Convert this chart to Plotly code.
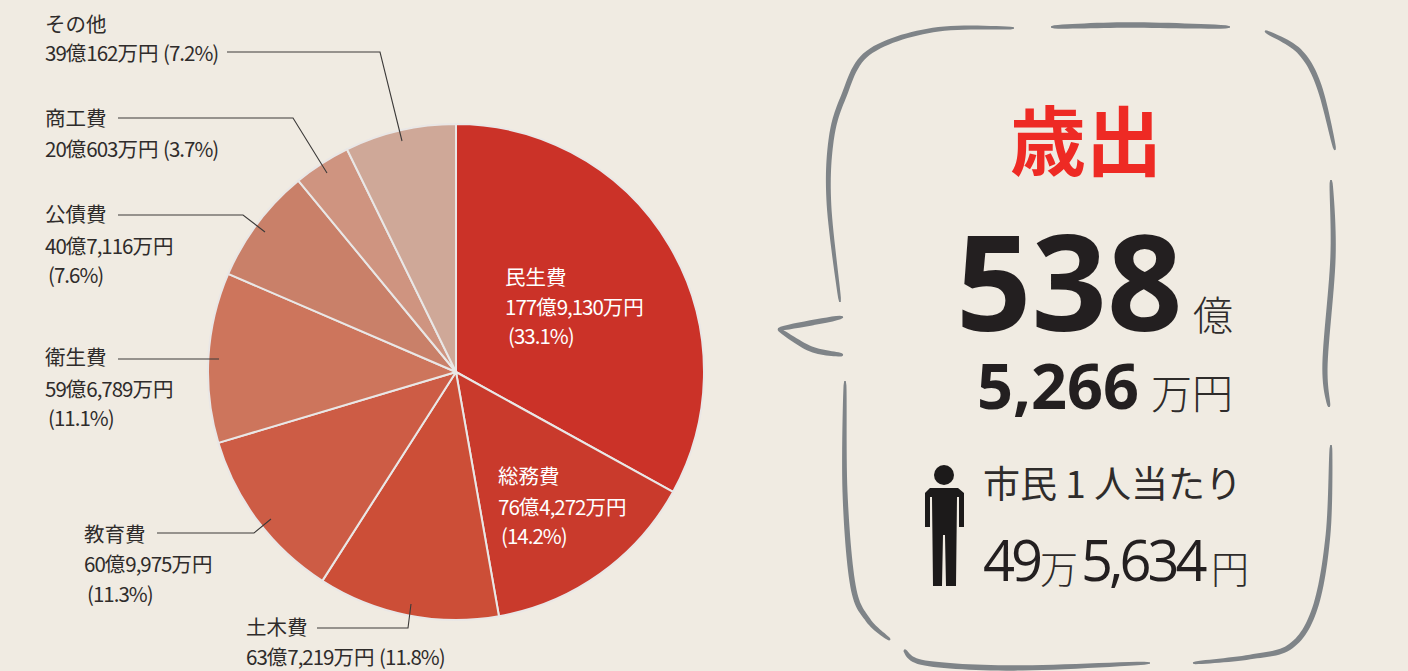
import math
import re
import plotly.graph_objects as go

W, H = 1408, 671
BG = "#f0ebe2"
INK = "#2f2c2b"
BRUSH = "#7f8488"

categories = ["民生費", "総務費", "土木費", "教育費", "衛生費", "公債費", "商工費", "その他"]
values_man_yen = [1779130, 764272, 637219, 609975, 596789, 407116, 200603, 390162]
slice_colors = ["#cb3228", "#c93a2c", "#cc4e37", "#cd5c45", "#cd755c", "#c98069", "#cf9480", "#cfa898"]

WIDE = "Open Sans, Noto Sans CJK JP, sans-serif"
JP = "Noto Sans CJK JP, sans-serif"

def fx(x): return x / W
def fy(y): return 1 - y / H

def tighten(text, spacing):
    """Condense the Latin runs the way the reference's narrow digits look."""
    return re.sub(r"([0-9,.%()]+)",
                  lambda m: f'<span style="letter-spacing:{spacing}px">{m.group(1)}</span>', text)

# (x, y-centre, text, colour)
label_lines = [
    (43, 23, "その他", INK), (43, 52, "39億162万円 (7.2%)", INK),
    (43, 117, "商工費", INK), (43, 148, "20億603万円 (3.7%)", INK),
    (43, 213, "公債費", INK), (43, 245, "40億7,116万円", INK), (46, 274, "(7.6%)", INK),
    (43, 356, "衛生費", INK), (43, 388, "59億6,789万円", INK), (46, 417, "(11.1%)", INK),
    (82, 533, "教育費", INK), (82, 563, "60億9,975万円", INK), (85, 593, "(11.3%)", INK),
    (244, 626, "土木費", INK), (244, 656, "63億7,219万円 (11.8%)", INK),
    (503, 276, "民生費", "#ffffff"), (503, 306, "177億9,130万円", "#ffffff"), (506, 335, "(33.1%)", "#ffffff"),
    (496, 475, "総務費", "#ffffff"), (496, 506, "76億4,272万円", "#ffffff"), (499, 535, "(14.2%)", "#ffffff"),
]

# (x, y-centre, text, family, size, weight, colour, anchor, letter spacing)
panel_texts = [
    (1086, 137, "歳出", JP, 76, 700, "#ee2a24", "center", 0),
    (1069, 280, "538", WIDE, 132, 700, "#231f20", "center", 0),
    (1213, 313, "億", JP, 40, 300, INK, "center", 0),
    (1058, 384, "5,266", WIDE, 63, 700, "#231f20", "center", 0),
    (1192, 391, "万円", JP, 41, 300, INK, "center", 0),
    (981, 482, "市民 1 人当たり", JP, 37, 400, INK, "left", 0),
    (981, 559, "49", WIDE, 56, 400, "#231f20", "left", -4),
    (1059, 566, "万", JP, 38, 300, INK, "center", 0),
    (1079, 559, "5,634", WIDE, 56, 400, "#231f20", "left", -4),
    (1230, 566, "円", JP, 38, 300, INK, "center", 0),
]

leaders = [
    [(227, 52), (380, 52), (402, 141)],
    [(118, 118), (293, 118), (327, 173)],
    [(118, 215), (243, 215), (265, 232)],
    [(118, 359), (219, 359)],
    [(157, 533), (254, 533), (271, 519)],
    [(317, 628), (408, 628), (411, 604)],
]

brush_strokes = [
    [(1014, 28), (933, 30), (868, 53), (843, 98), (831, 141), (829, 205), (840, 302)],
    [(1051, 27), (1130, 25), (1230, 27)],
    [(1265, 31), (1299, 51), (1319, 86), (1335, 150)],
    [(1331, 180), (1333, 257), (1325, 364), (1329, 407)],
    [(1331, 445), (1328, 535), (1315, 608), (1291, 646), (1250, 657), (1193, 663)],
    [(904, 650), (925, 663), (1014, 668), (1150, 663)],
    [(845, 381), (845, 492), (853, 586), (868, 620), (890, 640)],
    [(843, 317), (778, 329)],
    [(778, 329), (811, 349), (843, 355)],
]

def path(points):
    return "M " + " L ".join(f"{fx(x):.5f},{fy(y):.5f}" for x, y in points)

def brush_path(points, max_w=5.5, steps=14):
    """Catmull-Rom centreline turned into a tapering filled outline."""
    line = []
    for i in range(len(points) - 1):
        p0, p1, p2, p3 = (points[max(i - 1, 0)], points[i], points[i + 1],
                          points[min(i + 2, len(points) - 1)])
        for s in range(steps):
            t = s / steps
            line.append(tuple(
                0.5 * (2 * p1[k] + (p2[k] - p0[k]) * t
                       + (2 * p0[k] - 5 * p1[k] + 4 * p2[k] - p3[k]) * t * t
                       + (3 * p1[k] - p0[k] - 3 * p2[k] + p3[k]) * t ** 3)
                for k in (0, 1)))
    line.append(points[-1])
    left, right = [], []
    n = len(line)
    for i, (x, y) in enumerate(line):
        ax, ay = line[max(i - 1, 0)]
        bx, by = line[min(i + 1, n - 1)]
        dx, dy = bx - ax, by - ay
        d = math.hypot(dx, dy) or 1
        u = i / (n - 1)
        w = max_w * (0.3 + 0.7 * math.sin(math.pi * u) ** 0.4)
        left.append((x - dy / d * w / 2, y + dx / d * w / 2))
        right.append((x + dy / d * w / 2, y - dx / d * w / 2))
    return path(left + right[::-1]) + " Z"

fig = go.Figure(go.Pie(
    labels=categories, values=values_man_yen, sort=False, direction="clockwise", rotation=0,
    marker=dict(colors=slice_colors, line=dict(color="#e9e7e6", width=2)),
    textinfo="none", hoverinfo="label+percent", showlegend=False,
    domain=dict(x=[fx(208), fx(704)], y=[fy(620), fy(124)]),
))

shapes = []
for pts in leaders:
    shapes.append(dict(type="path", xref="paper", yref="paper", path=path(pts),
                       line=dict(color="#3c3a39", width=1.1)))
for pts in brush_strokes:
    shapes.append(dict(type="path", xref="paper", yref="paper", path=brush_path(pts),
                       fillcolor=BRUSH, line_width=0))

# person icon
shapes.append(dict(type="circle", xref="paper", yref="paper", x0=fx(934), x1=fx(954), y0=fy(465), y1=fy(485),
                   fillcolor="#1c1a1a", line_width=0))
body = [(930, 488), (958, 488), (964, 493), (964, 527), (959, 527), (959, 497), (957, 497), (956, 586),
        (946, 586), (945, 535), (943, 535), (942, 586), (933, 586), (932, 497), (930, 497), (930, 527),
        (925, 527), (925, 493)]
shapes.append(dict(type="path", xref="paper", yref="paper", path=path(body) + " Z",
                   fillcolor="#1c1a1a", line_width=0))

annotations = []
for x, y, t, c in label_lines:
    annotations.append(dict(x=fx(x), y=fy(y), xref="paper", yref="paper", text=tighten(t, -1.0),
                            showarrow=False, xanchor="left", yanchor="middle",
                            font=dict(family=JP, size=20.5, color=c)))
for x, y, t, fam, size, weight, c, anchor, ls in panel_texts:
    text = tighten(t, ls) if ls else t
    annotations.append(dict(x=fx(x), y=fy(y), xref="paper", yref="paper", text=text, showarrow=False,
                            xanchor=anchor, yanchor="middle",
                            font=dict(family=fam, size=size, color=c, weight=weight)))

fig.update_layout(
    width=W, height=H, autosize=False,
    margin=dict(l=0, r=0, t=0, b=0),
    paper_bgcolor=BG, plot_bgcolor=BG,
    shapes=shapes, annotations=annotations, showlegend=False,
)
fig.write_html("out.html", config=dict(displayModeBar=False),
               post_script="document.body.style.margin='0';document.body.style.background='%s';" % BG)
